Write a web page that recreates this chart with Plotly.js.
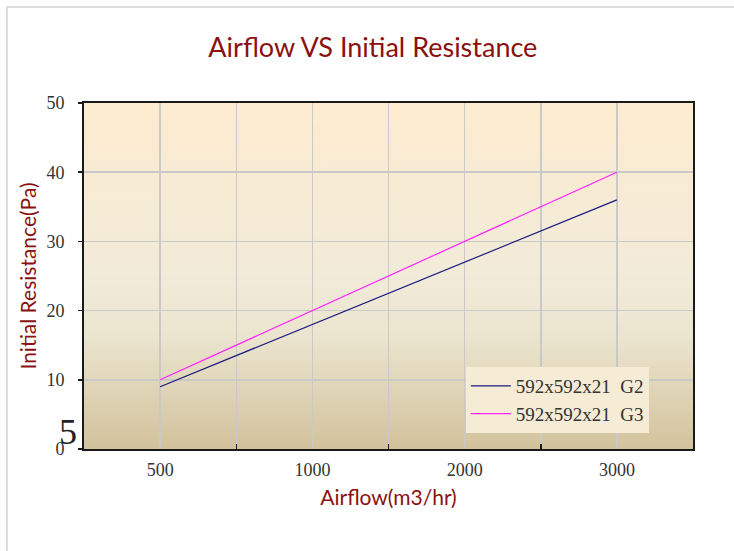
<!DOCTYPE html>
<html>
<head>
<meta charset="utf-8">
<script src="https://cdn.plot.ly/plotly-3.0.1.min.js"></script>
<style>html,body{margin:0;padding:0;background:#fff;}#chart{width:734px;height:551px;}</style>
</head>
<body>
<div id="chart"></div>
<script>
const categories = ['500', '1000', '2000', '3000'];
const seriesG2 = [9, 18, 27, 36];
const seriesG3 = [10, 20, 30, 40];
const seriesNames = ['592x592x21\u00a0\u00a0G2', '592x592x21\u00a0\u00a0G3'];
const yTicks = [0, 10, 20, 30, 40, 50];

function gradient() {
  const c = document.createElement('canvas');
  c.width = 4; c.height = 400;
  const g = c.getContext('2d');
  const gr = g.createLinearGradient(0, 0, 0, 400);
  gr.addColorStop(0, '#fdecd0');
  gr.addColorStop(0.5, '#f2ebd9');
  gr.addColorStop(0.68, '#ebe4ce');
  gr.addColorStop(1, '#d3c39d');
  g.fillStyle = gr; g.fillRect(0, 0, 4, 400);
  return c.toDataURL();
}

const serif = 'Liberation Serif, Times New Roman, serif';
const sans = 'Lato, Noto Sans, sans-serif';
const titleRed = '#8b1010';

const traces = [
  {x: categories, y: seriesG2, name: seriesNames[0], type: 'scatter', mode: 'lines',
   line: {color: '#1a1a80', width: 1.2}},
  {x: categories, y: seriesG3, name: seriesNames[1], type: 'scatter', mode: 'lines',
   line: {color: '#ff22ff', width: 1.2}},
  {x: [], y: [], xaxis: 'x2', showlegend: false, hoverinfo: 'skip', type: 'scatter'}
];

const layout = {
  width: 734, height: 551,
  margin: {l: 84, r: 41, t: 103, b: 102},
  paper_bgcolor: '#ffffff',
  plot_bgcolor: 'rgba(0,0,0,0)',
  title: {text: 'Airflow VS Initial Resistance', x: 0.508, xanchor: 'center', y: 0.913, yanchor: 'middle',
          font: {family: sans, size: 27, color: titleRed}},
  xaxis: {
    type: 'category', range: [-0.5, 3.5], fixedrange: true,
    showgrid: true, gridcolor: '#c9c9c9', gridwidth: 1.5,
    ticks: '', tickfont: {family: serif, size: 18, color: '#333'},
    showline: true, linecolor: '#1a1a1a', linewidth: 2, mirror: true,
    zeroline: false, ticklabelstandoff: 3,
    title: {text: 'Airflow(m3/hr)', standoff: 12, font: {family: sans, size: 21, color: titleRed}}
  },
  xaxis2: {
    overlaying: 'x', anchor: 'y', range: [-0.5, 3.5], tickvals: [0.5, 1.5, 2.5],
    showticklabels: false, ticks: 'inside', ticklen: 5, tickcolor: '#1a1a1a', tickwidth: 1.5,
    showgrid: true, gridcolor: '#c9c9c9', gridwidth: 1.5, zeroline: false, showline: false
  },
  yaxis: {
    range: [0, 50], tickvals: yTicks, fixedrange: true,
    showgrid: true, gridcolor: '#c9c9c9', gridwidth: 1.5, zeroline: false,
    ticks: 'outside', ticklen: 4, tickcolor: '#1a1a1a', tickwidth: 1.5,
    tickfont: {family: serif, size: 18, color: '#333'}, ticklabelstandoff: 10,
    showline: true, linecolor: '#1a1a1a', linewidth: 2, mirror: true,
    title: {text: 'Initial Resistance(Pa)', standoff: 4, font: {family: sans, size: 21, color: titleRed}}
  },
  legend: {
    x: 0.627, y: 0.046, xanchor: 'left', yanchor: 'bottom',
    bgcolor: '#f6ecd5', borderwidth: 0,
    font: {family: serif, size: 19, color: '#333'},
    tracegroupgap: 0, itemwidth: 40
  },
  images: [{source: gradient(), xref: 'paper', yref: 'paper', x: 0, y: 1, sizex: 1, sizey: 1,
            sizing: 'stretch', layer: 'below', xanchor: 'left', yanchor: 'top'}],
  shapes: [{type: 'path', xref: 'paper', yref: 'paper',
            path: 'M -0.1264,-0.32 L -0.1264,1.2775 L 1.08,1.2775',
            line: {color: '#dddddd', width: 2}}],
  annotations: [{text: '5', xref: 'paper', yref: 'paper', x: -0.009, y: -0.015, xanchor: 'right', yanchor: 'bottom',
                 showarrow: false, font: {family: serif, size: 36, color: '#222'}}],
  showlegend: true
};

Plotly.newPlot('chart', traces, layout, {displayModeBar: false, staticPlot: true});
</script>
</body>
</html>
